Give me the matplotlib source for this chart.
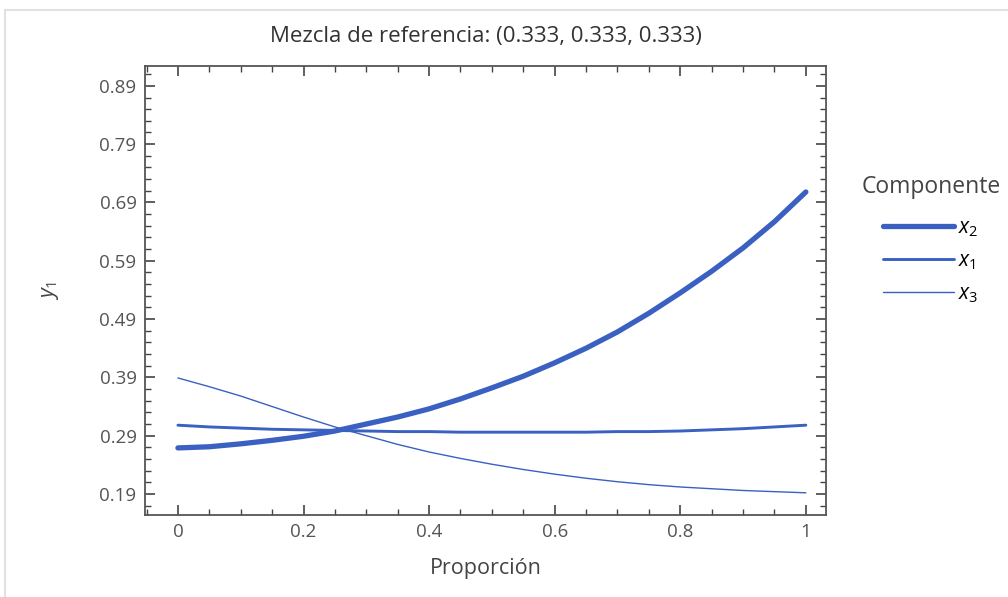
import matplotlib
matplotlib.use("Agg")
import matplotlib.pyplot as plt
from matplotlib.patches import Rectangle
from matplotlib.ticker import MultipleLocator, FixedLocator

plt.rcParams['font.family'] = ['Open Sans', 'DejaVu Sans']
plt.rcParams['mathtext.fontset'] = 'custom'
plt.rcParams['mathtext.it'] = 'Open Sans:italic'
plt.rcParams['mathtext.rm'] = 'Open Sans'

# proportion along the Cox direction
proportion = [0.0, 0.05, 0.1, 0.15, 0.2, 0.25, 0.3, 0.35, 0.4, 0.45, 0.5,
              0.55, 0.6, 0.65, 0.7, 0.75, 0.8, 0.85, 0.9, 0.95, 1.0]
# y1 trace for each component
trace_x2 = [0.269, 0.271, 0.276, 0.282, 0.289, 0.298, 0.310, 0.322, 0.336, 0.353, 0.372,
            0.392, 0.415, 0.440, 0.468, 0.500, 0.535, 0.572, 0.612, 0.657, 0.708]
trace_x1 = [0.308, 0.305, 0.303, 0.301, 0.300, 0.299, 0.298, 0.297, 0.297, 0.296, 0.296,
            0.296, 0.296, 0.296, 0.297, 0.297, 0.298, 0.300, 0.302, 0.305, 0.308]
trace_x3 = [0.389, 0.374, 0.358, 0.340, 0.322, 0.305, 0.290, 0.275, 0.262, 0.251, 0.241,
            0.232, 0.224, 0.217, 0.211, 0.206, 0.202, 0.199, 0.196, 0.194, 0.192]

y_ticks = [0.19, 0.29, 0.39, 0.49, 0.59, 0.69, 0.79, 0.89]
x_ticks = [0, 0.2, 0.4, 0.6, 0.8, 1]
x_labels = ["0", "0.2", "0.4", "0.6", "0.8", "1"]

blue = "#3a60c2"
grey = "#555555"

fig = plt.figure(figsize=(10.08, 5.97), dpi=100)
ax = fig.add_axes([0.1438, 0.1374, 0.6756, 0.752])

l2, = ax.plot(proportion, trace_x2, color=blue, lw=3.8, solid_capstyle='round')
l1, = ax.plot(proportion, trace_x1, color=blue, lw=2.1, solid_capstyle='round')
l3, = ax.plot(proportion, trace_x3, color=blue, lw=1.0, solid_capstyle='round')

ax.set_xlim(-0.0525, 1.032)
ax.set_ylim(0.154, 0.924)

ax.xaxis.set_major_locator(FixedLocator(x_ticks))
ax.set_xticklabels(x_labels)
ax.xaxis.set_minor_locator(MultipleLocator(0.05))
ax.yaxis.set_major_locator(FixedLocator(y_ticks))
ax.set_yticklabels([f"{v:.2f}" for v in y_ticks])
ax.yaxis.set_minor_locator(FixedLocator([0.17 + 0.02 * i for i in range(38)]))

ax.tick_params(which='both', direction='in', top=True, right=True, color='#444444')
ax.tick_params(which='major', length=7, width=1.2, labelsize=13.5, labelcolor=grey, pad=6)
ax.tick_params(which='minor', length=4, width=1.0)
for s in ax.spines.values():
    s.set_color('#555555')
    s.set_linewidth(1.3)

ax.set_xlabel("Proporción", fontsize=15.5, color='#444444', labelpad=12)
ax.set_ylabel("$y_1$", fontsize=15.5, color='#444444', labelpad=28)
ax.set_title("Mezcla de referencia: (0.333, 0.333, 0.333)", fontsize=16,
             color='#333333', pad=17)

fig.text(862 / 1008, 1 - 187 / 597, "Componente", fontsize=16.5, color='#444444',
         ha='left', va='center')
fig.legend([l2, l1, l3], ["$x_2$", "$x_1$", "$x_3$"],
           loc='upper left', bbox_to_anchor=(883 / 1008, 1 - 217 / 597), frameon=False,
           fontsize=15, handlelength=3.4, borderpad=0, borderaxespad=0,
           handletextpad=0.2, labelspacing=0.55)

# light frame around the whole picture
fig.add_artist(Rectangle((0.005, -0.01), 1.1, 0.993, transform=fig.transFigure,
                         fill=False, edgecolor='#e2e2e2', lw=1.5))

fig.savefig("out.png", dpi=100)
